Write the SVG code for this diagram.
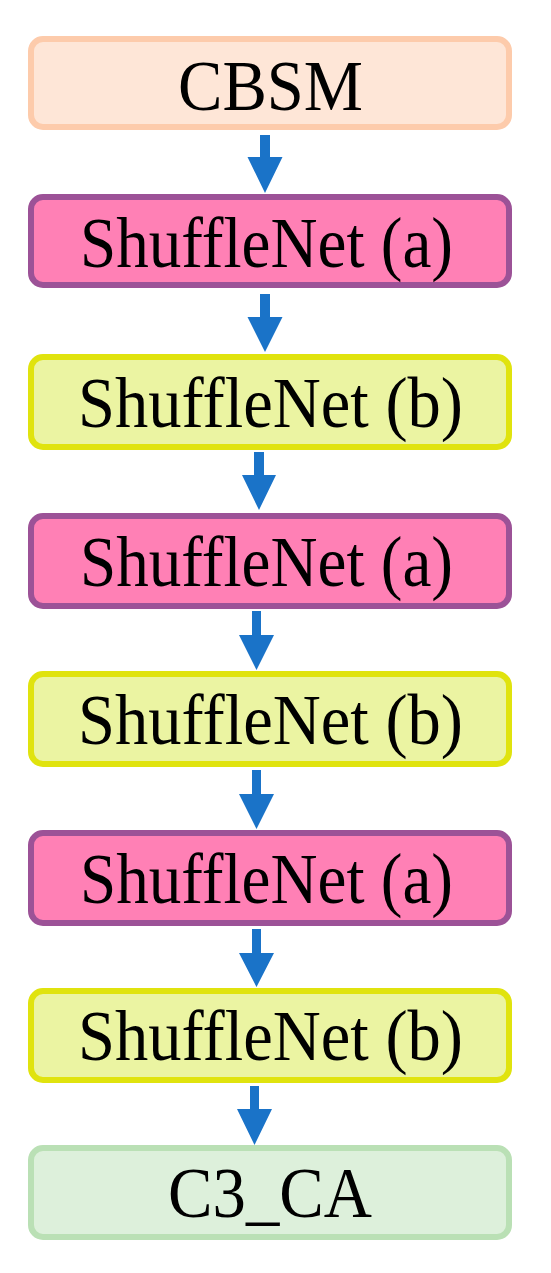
<svg xmlns="http://www.w3.org/2000/svg" width="551" height="1273" viewBox="0 0 551 1273">
<style>
.box{stroke-width:6}
.cbsm{fill:#FEE6D7;stroke:#FDCBAB}
.a{fill:#FF80B5;stroke:#9C5297}
.b{fill:#EBF4A2;stroke:#E0E30E}
.c3{fill:#DDF0DB;stroke:#BAE0B5}
text{font-family:"Liberation Serif","Times New Roman",serif;font-size:72px;fill:#000;text-anchor:middle}
.arr{fill:#1A73C8}
</style>
<rect width="551" height="1273" fill="#fff"/>
<g id="connectors">
<path class="arr" d="M260,135H270V157H282.5L265,193L247.5,157H260Z"/>
<path class="arr" d="M260,294H270V317H282.5L265,352L247.5,317H260Z"/>
<path class="arr" d="M254,452H264V475H276L259,510L242,475H254Z"/>
<path class="arr" d="M252,611H261V635H274L256.5,670L239,635H252Z"/>
<path class="arr" d="M252,770H261V794H274L256.5,829L239,794H252Z"/>
<path class="arr" d="M252,929H261V953H274L256.5,987L239,953H252Z"/>
<path class="arr" d="M250,1086H259V1109H272L254.5,1145L237,1109H250Z"/>
</g>
<g id="n1"><rect class="box cbsm" x="31" y="39" width="478" height="88" rx="12"/><text x="270.5" y="110" textLength="185" lengthAdjust="spacingAndGlyphs">CBSM</text></g>
<g id="n2"><rect class="box a" x="31" y="197" width="478" height="88" rx="12"/><text x="266.5" y="267" textLength="373" lengthAdjust="spacingAndGlyphs">ShuffleNet (a)</text></g>
<g id="n3"><rect class="box b" x="31" y="357" width="478" height="90" rx="12"/><text x="270.5" y="427" textLength="385" lengthAdjust="spacingAndGlyphs">ShuffleNet (b)</text></g>
<g id="n4"><rect class="box a" x="31" y="516" width="478" height="90" rx="12"/><text x="266.5" y="586" textLength="373" lengthAdjust="spacingAndGlyphs">ShuffleNet (a)</text></g>
<g id="n5"><rect class="box b" x="31" y="674" width="478" height="90" rx="12"/><text x="270.5" y="744" textLength="385" lengthAdjust="spacingAndGlyphs">ShuffleNet (b)</text></g>
<g id="n6"><rect class="box a" x="31" y="833" width="478" height="90" rx="12"/><text x="266.5" y="903" textLength="373" lengthAdjust="spacingAndGlyphs">ShuffleNet (a)</text></g>
<g id="n7"><rect class="box b" x="31" y="991" width="478" height="89" rx="12"/><text x="270.5" y="1060" textLength="385" lengthAdjust="spacingAndGlyphs">ShuffleNet (b)</text></g>
<g id="n8"><rect class="box c3" x="31" y="1148" width="478" height="89" rx="12"/><text x="270" y="1217" textLength="204" lengthAdjust="spacingAndGlyphs">C3_CA</text></g>
</svg>
